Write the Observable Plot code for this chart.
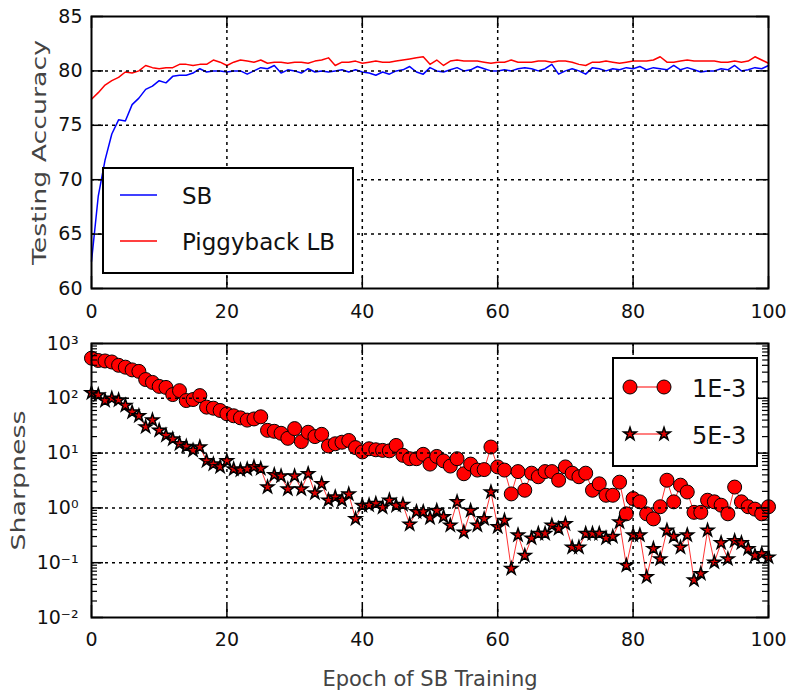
<!DOCTYPE html>
<html><head><meta charset="utf-8">
<script src="https://cdn.jsdelivr.net/npm/d3@7"></script>
<script src="https://cdn.jsdelivr.net/npm/@observablehq/plot@0.6"></script>
<style>
body{margin:0;background:#fff;font-family:"DejaVu Sans",sans-serif;}
#wrap{position:relative;width:788px;height:695px;overflow:hidden;}
#top,#bot{position:absolute;left:0;}
#top{top:0px;}
#bot{top:320px;}
#leg{position:absolute;left:0;top:0;pointer-events:none;}
</style></head><body>
<div id="wrap"><div id="top"></div><div id="bot"></div><svg id="leg" width="788" height="695"></svg></div>
<script>
// ---------- data ----------
const epochs = d3.range(0, 101);
const sbAcc = [62.5,68.5,71.8,74.2,75.5,75.4,76.9,77.5,78.3,78.6,
79.1,78.9,79.5,79.6,79.6,79.8,80.2,79.9,80.0,80.0,
79.9,80.0,80.0,79.7,80.0,80.3,80.2,80.5,79.8,80.1,
80.0,79.8,80.2,79.9,80.0,79.9,80.0,80.1,79.9,80.1,
79.9,79.8,79.6,79.9,79.7,80.0,80.1,80.4,79.9,79.7,
80.3,80.0,79.9,80.1,80.3,80.0,80.1,80.4,80.2,80.0,
80.0,80.1,80.0,80.2,80.3,80.2,80.0,80.2,80.6,79.7,
80.0,80.2,80.0,79.7,80.3,80.2,80.0,80.2,80.1,80.3,
80.2,80.4,80.1,80.3,80.2,80.1,80.5,80.1,80.3,80.1,
79.9,80.0,80.0,80.2,80.1,80.5,80.0,80.1,80.3,80.2,
80.5];
const pbAcc = [77.4,78.0,78.7,79.1,79.4,79.9,79.8,80.0,80.5,80.3,
80.2,80.3,80.3,80.6,80.6,80.5,80.6,80.6,81.0,80.8,
80.5,80.8,81.0,80.9,80.8,81.0,80.7,80.8,80.8,80.7,
80.8,80.8,80.7,80.9,81.0,81.2,80.5,80.8,80.8,80.9,
80.7,80.8,80.9,80.8,80.8,80.9,81.0,81.1,81.2,81.3,
80.6,81.0,80.5,80.9,81.0,80.9,80.9,80.9,80.8,80.7,
80.8,80.8,81.0,80.8,80.8,80.8,80.9,80.9,80.8,80.9,
80.9,80.8,80.6,80.5,80.8,80.8,80.9,80.8,80.7,80.8,
80.9,80.9,80.9,81.0,81.3,80.8,80.8,80.9,81.0,80.9,
80.9,80.9,80.9,80.8,80.8,80.9,80.8,80.9,81.3,81.0,
80.7];
const sharp1e3 = [540,490,480,460,400,370,330,310,220,195,
165,158,117,138,91,95,112,69,66,60,
52,48,44,40,42,46,26,25,23,18.6,
28,16.2,24,20,22,13.5,14.8,15.8,17,12.6,
10.5,12,11.5,11.2,11,13.8,9.1,7.9,7.9,9.5,
6.3,8.7,7.2,5.8,7.9,4.2,6.3,4.9,5.0,12.9,
5.6,4.9,1.8,4.6,2.1,4.3,3.7,4.6,4.6,3.2,
5.6,4.3,3.7,4.3,2.1,2.75,1.7,1.7,2.95,0.78,
1.48,1.29,0.78,0.63,1.05,3.2,1.29,2.6,1.95,0.83,
0.83,1.38,1.29,1.12,0.78,2.4,1.29,1.05,0.95,0.78,
1.05];
const sharp5e3 = [126,115,91,100,93,74,56,48,30,40,
26,21,18,14.8,13.2,11.2,12.9,7.2,6.3,5.6,
7.2,5.1,4.9,5.1,5.6,5.2,2.4,4.0,3.8,2.2,
3.8,2.2,4.2,1.86,2.75,1.38,1.58,1.38,1.78,0.63,
1.1,1.12,1.2,1.02,1.38,1.1,1.15,0.5,0.85,0.85,
0.66,0.89,0.69,0.48,1.29,0.36,0.89,0.48,0.63,1.95,
0.45,0.59,0.078,0.32,0.135,0.28,0.34,0.34,0.48,0.42,
0.51,0.19,0.19,0.34,0.34,0.34,0.28,0.3,0.55,0.089,
0.32,0.32,0.055,0.18,0.117,0.39,0.3,0.19,0.32,0.048,
0.063,0.39,0.102,0.23,0.117,0.25,0.23,0.18,0.135,0.145,
0.126];
const xTicks = [0, 20, 40, 60, 80, 100];
const accTicks = [60, 65, 70, 75, 80, 85];
const sharpTicks = [0.01, 0.1, 1, 10, 100, 1000];
const sharpTickLabels = ["10\u207B\u00B2", "10\u207B\u00B9", "10\u2070", "10\u00B9", "10\u00B2", "10\u00B3"];
const topSeries = ["SB", "Piggyback LB"];
const topColors = ["#0000ff", "#ff0000"];
const botSeries = ["1E-3", "5E-3"];

// ---------- shared ----------
const W = 788;
const font = "'DejaVu Sans', sans-serif";
const gridStyle = {stroke: "black", strokeWidth: 1.5, strokeDasharray: "3,4", strokeOpacity: 1};

// ---------- top panel ----------
const tH = 320, tM = {top: 16, right: 20, bottom: 32, left: 91};
const tPH = tH - tM.top - tM.bottom, tPW = W - tM.left - tM.right;
const accRows = epochs.flatMap((e, i) => [
  {epoch: e, acc: sbAcc[i], s: topSeries[0]},
  {epoch: e, acc: pbAcc[i], s: topSeries[1]}
]);
const topPlot = Plot.plot({
  width: W, height: tH,
  marginTop: tM.top, marginRight: tM.right, marginBottom: tM.bottom, marginLeft: tM.left,
  style: {fontFamily: font, fontSize: "19px", color: "#111", background: "transparent", overflow: "visible"},
  x: {domain: [0, 100], ticks: xTicks, tickSize: 0, tickPadding: 16, label: null},
  y: {domain: [60, 85], ticks: accTicks, tickSize: 0, tickPadding: 9, label: null},
  marks: [
    Plot.line(accRows.filter(d => d.s === topSeries[1]), {x: "epoch", y: "acc", stroke: topColors[1], strokeWidth: 1.5}),
    Plot.line(accRows.filter(d => d.s === topSeries[0]), {x: "epoch", y: "acc", stroke: topColors[0], strokeWidth: 1.5}),
    Plot.ruleX(xTicks.slice(1, -1), gridStyle),
    Plot.ruleY(accTicks.slice(1, -1), gridStyle),
    Plot.ruleX(xTicks, {stroke: "black", strokeWidth: 1.5, insetTop: tPH - 12}),
    Plot.ruleX(xTicks, {stroke: "black", strokeWidth: 1.5, insetBottom: tPH - 12}),
    Plot.ruleY(accTicks, {stroke: "black", strokeWidth: 1.5, insetRight: tPW - 12}),
    Plot.ruleY(accTicks, {stroke: "black", strokeWidth: 1.5, insetLeft: tPW - 12}),
    Plot.frame({stroke: "black", strokeWidth: 2}),
    Plot.text(["Testing Accuracy"], {frameAnchor: "left", dx: -52, rotate: -90, textAnchor: "middle",
      fontSize: 19, fill: "#444"})
  ]
});
document.getElementById("top").appendChild(topPlot);

// ---------- bottom panel ----------
const bH = 375, bM = {top: 23, right: 20, bottom: 78, left: 91};
const bPH = bH - bM.top - bM.bottom, bPW = W - bM.left - bM.right;
const sharpRows = epochs.flatMap((e, i) => [
  {epoch: e, v: sharp1e3[i], s: botSeries[0]},
  {epoch: e, v: sharp5e3[i], s: botSeries[1]}
]);
const minorTicks = d3.range(-2, 3).flatMap(k => d3.range(2, 10).map(m => m * Math.pow(10, k)));
const r1 = sharpRows.filter(d => d.s === botSeries[0]);
const r2 = sharpRows.filter(d => d.s === botSeries[1]);
const botPlot = Plot.plot({
  width: W, height: bH,
  marginTop: bM.top, marginRight: bM.right, marginBottom: bM.bottom, marginLeft: bM.left,
  style: {fontFamily: font, fontSize: "19px", color: "#111", background: "transparent", overflow: "visible"},
  x: {domain: [0, 100], ticks: xTicks, tickSize: 0, tickPadding: 15, label: null},
  y: {type: "log", domain: [0.01, 1000], ticks: sharpTicks, tickSize: 0, tickPadding: 13, label: null,
      tickFormat: d => sharpTickLabels[sharpTicks.indexOf(d)]},
  marks: [
    Plot.line(r1, {x: "epoch", y: "v", stroke: "#ff0000", strokeWidth: 1, strokeOpacity: 0.8}),
    Plot.dot(r1, {x: "epoch", y: "v", r: 7, symbol: "circle", fill: "#ff0000", stroke: "black", strokeWidth: 1}),
    Plot.line(r2, {x: "epoch", y: "v", stroke: "#ff0000", strokeWidth: 1, strokeOpacity: 0.8}),
    Plot.dot(r2, {x: "epoch", y: "v", r: 4, symbol: "star", fill: "#dd0000", stroke: "black", strokeWidth: 1.5}),
    Plot.ruleX(xTicks.slice(1, -1), gridStyle),
    Plot.ruleY(sharpTicks.slice(1, -1), gridStyle),
    Plot.ruleX(xTicks, {stroke: "black", strokeWidth: 1.5, insetTop: bPH - 12}),
    Plot.ruleX(xTicks, {stroke: "black", strokeWidth: 1.5, insetBottom: bPH - 12}),
    Plot.ruleY(sharpTicks, {stroke: "black", strokeWidth: 1.5, insetRight: bPW - 12}),
    Plot.ruleY(sharpTicks, {stroke: "black", strokeWidth: 1.5, insetLeft: bPW - 12}),
    Plot.ruleY(minorTicks, {stroke: "black", strokeWidth: 1.2, insetRight: bPW - 6}),
    Plot.ruleY(minorTicks, {stroke: "black", strokeWidth: 1.2, insetLeft: bPW - 6}),
    Plot.frame({stroke: "black", strokeWidth: 2}),
    Plot.text(["Sharpness"], {frameAnchor: "left", dx: -73, rotate: -90, textAnchor: "middle",
      fontSize: 19, fill: "#444"}),
    Plot.text(["Epoch of SB Training"], {frameAnchor: "bottom", dy: 68, fontSize: 21, fill: "#444"})
  ]
});
document.getElementById("bot").appendChild(botPlot);

// stretch the rotated axis titles along their length, as in the reference
const stretch = {"Testing Accuracy": 225, "Sharpness": 140};
[topPlot, botPlot].forEach(svg => {
  d3.select(svg).selectAll("text").each(function () {
    const L = stretch[this.textContent];
    if (L) d3.select(this).attr("textLength", L).attr("lengthAdjust", "spacingAndGlyphs");
  });
});

// ---------- legends ----------
const leg = d3.select("#leg").style("font-family", "DejaVu Sans");
// top legend
leg.append("rect").attr("x", 103).attr("y", 168).attr("width", 250).attr("height", 105)
  .attr("fill", "white").attr("stroke", "black").attr("stroke-width", 2);
topSeries.forEach((name, i) => {
  const y = 195 + i * 46;
  leg.append("line").attr("x1", 120).attr("x2", 157).attr("y1", y).attr("y2", y)
    .attr("stroke", topColors[i]).attr("stroke-width", 1.5);
  leg.append("text").attr("x", 182).attr("y", y + 9).attr("font-size", 23).attr("fill", "#111").text(name);
});
// bottom legend
leg.append("rect").attr("x", 613).attr("y", 358).attr("width", 144).attr("height", 108)
  .attr("fill", "white").attr("stroke", "black").attr("stroke-width", 2);
const starPath = d3.symbol(d3.symbolStar, Math.PI * 4 * 4)();
botSeries.forEach((name, i) => {
  const y = 387 + i * 47;
  leg.append("line").attr("x1", 630).attr("x2", 664).attr("y1", y).attr("y2", y)
    .attr("stroke", "#ff0000").attr("stroke-width", 1.2);
  [630, 664].forEach(x => {
    if (i === 0) {
      leg.append("circle").attr("cx", x).attr("cy", y).attr("r", 7)
        .attr("fill", "#ff0000").attr("stroke", "black").attr("stroke-width", 1);
    } else {
      leg.append("path").attr("d", starPath).attr("transform", `translate(${x},${y})`)
        .attr("fill", "#dd0000").attr("stroke", "black").attr("stroke-width", 1.5);
    }
  });
  leg.append("text").attr("x", 692).attr("y", y + 10).attr("font-size", 24).attr("fill", "#111").text(name);
});
</script>
</body></html>
